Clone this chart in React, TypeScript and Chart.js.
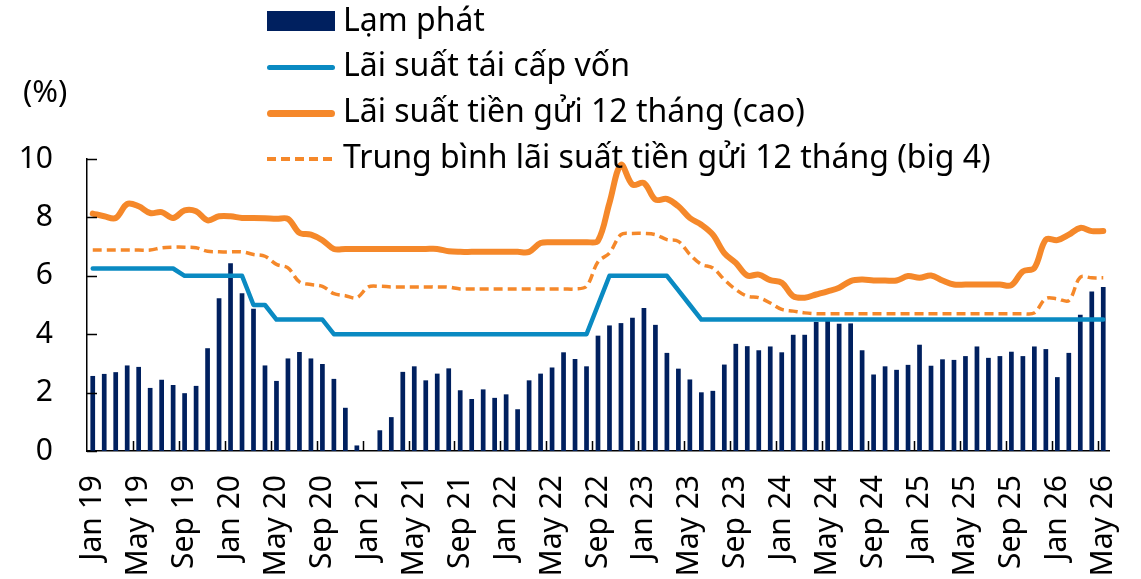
import React, { useEffect, useRef } from "react";
import { Chart, registerables } from "chart.js";

Chart.register(...registerables);

const categories = [
  "Jan 19", "Feb 19", "Mar 19", "Apr 19", "May 19", "Jun 19", "Jul 19", "Aug 19", "Sep 19", "Oct 19", "Nov 19", "Dec 19",
  "Jan 20", "Feb 20", "Mar 20", "Apr 20", "May 20", "Jun 20", "Jul 20", "Aug 20", "Sep 20", "Oct 20", "Nov 20", "Dec 20",
  "Jan 21", "Feb 21", "Mar 21", "Apr 21", "May 21", "Jun 21", "Jul 21", "Aug 21", "Sep 21", "Oct 21", "Nov 21", "Dec 21",
  "Jan 22", "Feb 22", "Mar 22", "Apr 22", "May 22", "Jun 22", "Jul 22", "Aug 22", "Sep 22", "Oct 22", "Nov 22", "Dec 22",
  "Jan 23", "Feb 23", "Mar 23", "Apr 23", "May 23", "Jun 23", "Jul 23", "Aug 23", "Sep 23", "Oct 23", "Nov 23", "Dec 23",
  "Jan 24", "Feb 24", "Mar 24", "Apr 24", "May 24", "Jun 24", "Jul 24", "Aug 24", "Sep 24", "Oct 24", "Nov 24", "Dec 24",
  "Jan 25", "Feb 25", "Mar 25", "Apr 25", "May 25", "Jun 25", "Jul 25", "Aug 25", "Sep 25", "Oct 25", "Nov 25", "Dec 25",
  "Jan 26", "Feb 26", "Mar 26", "Apr 26", "May 26",
];

// Lạm phát (%)
const inflation = [
  2.57, 2.64, 2.70, 2.93, 2.88, 2.16, 2.44, 2.26, 1.98, 2.23, 3.52, 5.23,
  6.43, 5.40, 4.87, 2.93, 2.40, 3.17, 3.39, 3.17, 2.98, 2.47, 1.48, 0.19,
  -0.97, 0.71, 1.16, 2.71, 2.90, 2.42, 2.65, 2.83, 2.08, 1.78, 2.11, 1.82,
  1.94, 1.43, 2.42, 2.65, 2.86, 3.38, 3.15, 2.90, 3.95, 4.30, 4.38, 4.56,
  4.90, 4.32, 3.36, 2.82, 2.45, 2.01, 2.06, 2.96, 3.67, 3.59, 3.45, 3.58,
  3.38, 3.98, 3.98, 4.42, 4.45, 4.36, 4.37, 3.45, 2.62, 2.90, 2.78, 2.95,
  3.64, 2.92, 3.14, 3.12, 3.25, 3.58, 3.19, 3.25, 3.40, 3.25, 3.58, 3.49,
  2.53, 3.36, 4.67, 5.46, 5.62,
];

// Lãi suất tái cấp vốn (%)
const refinancingRate = [
  6.25, 6.25, 6.25, 6.25, 6.25, 6.25, 6.25, 6.25, 6.0, 6.0, 6.0, 6.0,
  6.0, 6.0, 5.0, 5.0, 4.5, 4.5, 4.5, 4.5, 4.5, 4.0, 4.0, 4.0,
  4.0, 4.0, 4.0, 4.0, 4.0, 4.0, 4.0, 4.0, 4.0, 4.0, 4.0, 4.0,
  4.0, 4.0, 4.0, 4.0, 4.0, 4.0, 4.0, 4.0, 5.0, 6.0, 6.0, 6.0,
  6.0, 6.0, 6.0, 5.5, 5.0, 4.5, 4.5, 4.5, 4.5, 4.5, 4.5, 4.5,
  4.5, 4.5, 4.5, 4.5, 4.5, 4.5, 4.5, 4.5, 4.5, 4.5, 4.5, 4.5,
  4.5, 4.5, 4.5, 4.5, 4.5, 4.5, 4.5, 4.5, 4.5, 4.5, 4.5, 4.5,
  4.5, 4.5, 4.5, 4.5, 4.5,
];

// Lãi suất tiền gửi 12 tháng (cao) (%)
const depositHigh = [
  8.13, 8.04, 7.98, 8.46, 8.38, 8.15, 8.18, 7.98, 8.24, 8.21, 7.90, 8.04,
  8.04, 7.98, 7.98, 7.97, 7.95, 7.95, 7.47, 7.41, 7.22, 6.92, 6.92, 6.92,
  6.92, 6.92, 6.92, 6.92, 6.92, 6.92, 6.92, 6.84, 6.82, 6.82, 6.82, 6.82,
  6.82, 6.82, 6.82, 7.12, 7.15, 7.15, 7.15, 7.15, 7.20, 8.50, 9.80, 9.12,
  9.18, 8.61, 8.63, 8.38, 7.98, 7.75, 7.41, 6.78, 6.44, 6.01, 6.04, 5.85,
  5.76, 5.30, 5.25, 5.36, 5.47, 5.59, 5.82, 5.87, 5.84, 5.84, 5.84, 5.99,
  5.93, 6.01, 5.84, 5.70, 5.70, 5.70, 5.70, 5.70, 5.68, 6.15, 6.27, 7.24,
  7.22, 7.41, 7.64, 7.53, 7.53,
];

// Trung bình lãi suất tiền gửi 12 tháng (big 4) (%)
const depositBig4 = [
  6.88, 6.88, 6.88, 6.88, 6.88, 6.88, 6.96, 6.98, 6.98, 6.96, 6.84, 6.82,
  6.82, 6.82, 6.73, 6.67, 6.39, 6.27, 5.79, 5.70, 5.64, 5.39, 5.32, 5.25,
  5.62, 5.64, 5.62, 5.62, 5.62, 5.62, 5.62, 5.61, 5.55, 5.55, 5.55, 5.55,
  5.55, 5.55, 5.55, 5.55, 5.55, 5.55, 5.55, 5.64, 6.48, 6.78, 7.41, 7.45,
  7.45, 7.41, 7.24, 7.18, 6.73, 6.39, 6.27, 5.87, 5.53, 5.30, 5.25, 5.07,
  4.85, 4.79, 4.73, 4.70, 4.70, 4.70, 4.70, 4.70, 4.70, 4.70, 4.70, 4.70,
  4.70, 4.70, 4.70, 4.70, 4.70, 4.70, 4.70, 4.70, 4.70, 4.70, 4.73, 5.22,
  5.21, 5.15, 5.95, 5.93, 5.93,
];

const yTickValues = [0, 2, 4, 6, 8, 10];
const labelEvery = 4;

const seriesNames = [
  "Lạm phát",
  "Lãi suất tái cấp vốn",
  "Lãi suất tiền gửi 12 tháng (cao)",
  "Trung bình lãi suất tiền gửi 12 tháng (big 4)",
];
const unitLabel = "(%)";

const NAVY = "#00205F";
const BLUE = "#0A8AC2";
const ORANGE = "#F5882A";
const FONT = "'Noto Sans', 'Open Sans', sans-serif";

const innerTicks = {
  id: "innerTicks",
  afterDraw(chart: any) {
    const { ctx, chartArea, scales } = chart;
    const x = scales.x;
    const y = scales.y;
    ctx.save();
    ctx.strokeStyle = "#000";
    ctx.lineWidth = 1.5;
    ctx.beginPath();
    yTickValues.forEach((v) => {
      const py = Math.round(y.getPixelForValue(v)) + 0.5;
      ctx.moveTo(chartArea.left, py);
      ctx.lineTo(chartArea.left + 10, py);
    });
    const half = (x.getPixelForValue(1) - x.getPixelForValue(0)) / 2;
    for (let i = labelEvery; i < categories.length; i += labelEvery) {
      const px = Math.round(x.getPixelForValue(i) - half) + 0.5;
      ctx.moveTo(px, chartArea.bottom);
      ctx.lineTo(px, chartArea.bottom - 10);
    }
    ctx.stroke();
    ctx.restore();
  },
};

export default function App() {
  const canvasRef = useRef<HTMLCanvasElement | null>(null);

  useEffect(() => {
    const canvas = canvasRef.current;
    if (!canvas) return;
    const chart = new Chart(canvas, {
      type: "bar",
      data: {
        labels: categories,
        datasets: [
          {
            type: "line",
            label: seriesNames[2],
            data: depositHigh,
            borderColor: ORANGE,
            borderWidth: 6,
            pointRadius: 0,
            tension: 0.35,
            borderCapStyle: "round",
            borderJoinStyle: "round",
            order: 0,
          } as any,
          {
            type: "line",
            label: seriesNames[3],
            data: depositBig4,
            borderColor: ORANGE,
            borderWidth: 3.5,
            borderDash: [9, 5],
            pointRadius: 0,
            tension: 0.35,
            order: 1,
          } as any,
          {
            type: "line",
            label: seriesNames[1],
            data: refinancingRate,
            borderColor: BLUE,
            borderWidth: 4.5,
            pointRadius: 0,
            tension: 0,
            borderCapStyle: "round",
            borderJoinStyle: "round",
            order: 2,
          } as any,
          {
            type: "bar",
            label: seriesNames[0],
            data: inflation,
            backgroundColor: NAVY,
            barPercentage: 0.41,
            categoryPercentage: 1,
            order: 3,
          } as any,
        ],
      },
      options: {
        responsive: false,
        animation: false,
        devicePixelRatio: 1,
        layout: { padding: { top: 159, right: 32, left: 0, bottom: 0 } },
        plugins: {
          legend: { display: false },
          tooltip: { enabled: false },
        },
        scales: {
          x: {
            type: "category",
            offset: true,
            grid: { display: false, drawTicks: false, offset: true },
            border: { display: true, color: "#000", width: 1.5 },
            ticks: {
              autoSkip: false,
              minRotation: 90,
              maxRotation: 90,
              padding: 24,
              color: "#000",
              font: { family: FONT, size: 30 },
              callback: (_v: any, i: number) => (i % labelEvery === 0 ? categories[i] : ""),
            },
            afterFit: (s: any) => {
              s.height = 128;
              s.paddingLeft = 0;
              s.paddingRight = 0;
            },
          },
          y: {
            min: 0,
            max: 10,
            grid: { display: false, drawTicks: false },
            border: { display: true, color: "#000", width: 1.5 },
            ticks: {
              stepSize: 2,
              padding: 34,
              color: "#000",
              font: { family: FONT, size: 30 },
            },
            afterFit: (s: any) => {
              s.width = 87;
              s.paddingTop = 0;
              s.paddingBottom = 0;
            },
          },
        },
      } as any,
      plugins: [innerTicks],
    });
    return () => chart.destroy();
  }, []);

  const textBase: React.CSSProperties = {
    position: "absolute",
    left: 343,
    fontFamily: FONT,
    fontSize: 32,
    lineHeight: "32px",
    color: "#000",
    whiteSpace: "nowrap",
  };
  const baselines = [31, 76, 122, 168];

  return (
    <div style={{ position: "absolute", left: 0, top: 0, width: 1141, height: 579, background: "#fff", overflow: "hidden" }}>
      <canvas ref={canvasRef} width={1141} height={579} style={{ position: "absolute", left: 0, top: 0 }} />
      <div style={{ position: "absolute", left: 23, top: 103 - 28, fontFamily: FONT, fontSize: 31, lineHeight: "31px", color: "#000" }}>{unitLabel}</div>
      <div style={{ position: "absolute", left: 267, top: 11, width: 68, height: 20, background: NAVY }} />
      <div style={{ position: "absolute", left: 267, top: 67 - 2.5, width: 68, height: 5, borderRadius: 3, background: BLUE }} />
      <div style={{ position: "absolute", left: 267, top: 113 - 3.5, width: 68, height: 7, borderRadius: 4, background: ORANGE }} />
      <div
        style={{
          position: "absolute",
          left: 267,
          top: 159 - 2,
          width: 68,
          height: 4,
          background: `repeating-linear-gradient(to right, ${ORANGE} 0px, ${ORANGE} 9px, transparent 9px, transparent 14px)`,
        }}
      />
      {seriesNames.map((name, i) => (
        <div key={name} style={{ ...textBase, top: baselines[i] - 28.4 }}>
          {name}
        </div>
      ))}
    </div>
  );
}
